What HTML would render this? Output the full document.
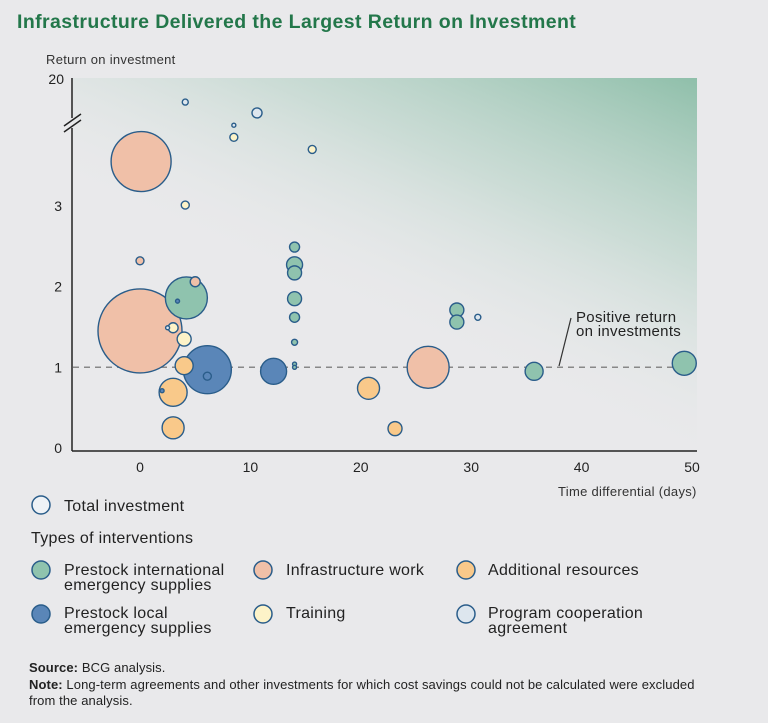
<!DOCTYPE html>
<html><head><meta charset="utf-8"><style>
body{margin:0;background:#e9e9eb;font-family:"Liberation Sans",sans-serif;}
#wrap{position:relative;width:768px;height:723px;overflow:hidden;background:#e9e9eb;}
</style></head><body>
<div id="wrap">
<svg id="svg" width="768" height="723" viewBox="0 0 768 723" xmlns="http://www.w3.org/2000/svg">
<defs>
<linearGradient id="g" x1="1" y1="0" x2="0.45" y2="0.75">
<stop offset="0" stop-color="#8fbfaa" stop-opacity="1"/>
<stop offset="0.45" stop-color="#a9cdbd" stop-opacity="0.45"/>
<stop offset="0.9" stop-color="#e9e9eb" stop-opacity="0"/>
</linearGradient>
</defs>
<text x="17" y="28" font-size="19.5" font-weight="bold" fill="#23774a" letter-spacing="0.4">Infrastructure Delivered the Largest Return on Investment</text>
<rect x="73" y="78" width="624" height="372" fill="url(#g)"/>
<text x="46" y="64" font-size="13" fill="#333" letter-spacing="0.3">Return on investment</text>
<g id="axes"></g>
<g id="marks"></g>
<line x1="559" y1="366" x2="571" y2="318" stroke="#333" stroke-width="1.2"/>
<text x="576" y="322" font-size="15" letter-spacing="0.3" fill="#222">Positive return</text>
<text x="576" y="336" font-size="15" letter-spacing="0.3" fill="#222">on investments</text>
<text x="558" y="496" font-size="13" letter-spacing="0.3" fill="#333">Time differential (days)</text>

<g font-size="16" letter-spacing="0.3" fill="#222">
<circle cx="41" cy="505" r="9" fill="#eef2f6" stroke="#2a5d8a" stroke-width="1.5"/>
<text x="64" y="511">Total investment</text>
<text x="31" y="543">Types of interventions</text>
<circle cx="41" cy="570" r="9" fill="#8fc3ae" stroke="#2a5d8a" stroke-width="1.5"/>
<text x="64" y="575">Prestock international</text><text x="64" y="590">emergency supplies</text>
<circle cx="263" cy="570" r="9" fill="#f0c0a8" stroke="#2a5d8a" stroke-width="1.5"/>
<text x="286" y="575">Infrastructure work</text>
<circle cx="466" cy="570" r="9" fill="#f9c98a" stroke="#2a5d8a" stroke-width="1.5"/>
<text x="488" y="575">Additional resources</text>
<circle cx="41" cy="614" r="9" fill="#5a86b8" stroke="#2a5d8a" stroke-width="1.5"/>
<text x="64" y="618">Prestock local</text><text x="64" y="633">emergency supplies</text>
<circle cx="263" cy="614" r="9" fill="#fdf3c8" stroke="#2a5d8a" stroke-width="1.5"/>
<text x="286" y="618">Training</text>
<circle cx="466" cy="614" r="9" fill="#dde6ee" stroke="#2a5d8a" stroke-width="1.5"/>
<text x="488" y="618">Program cooperation</text><text x="488" y="633">agreement</text>
</g>
<g font-size="13" letter-spacing="0.1" fill="#222">
<text x="29" y="672"><tspan font-weight="bold">Source:</tspan> BCG analysis.</text>
<text x="29" y="689"><tspan font-weight="bold">Note:</tspan> Long-term agreements and other investments for which cost savings could not be calculated were excluded</text>
<text x="29" y="705">from the analysis.</text>
</g>
</svg>
</div>
<script>
const xTicks=[0,10,20,30,40,50];
const yTicks=[0,1,2,3];
const days=[4.1,10.6,8.5,8.5,15.6,0.1,4.1,0,5.0,4.2,3.4,0,3.0,2.5,4.0,4.0,6.1,6.1,12.1,3.0,2.0,3.0,14.0,14.0,14.0,14.0,14.0,14.0,14.0,14.0,28.7,28.7,30.6,26.1,20.7,23.1,35.7,49.3];
const roi=[11.8,8.1,4.0,3.85,3.7,3.55,3.01,2.32,2.06,1.86,1.82,1.45,1.49,1.49,1.35,1.02,0.97,0.89,0.95,0.69,0.71,0.25,2.49,2.27,2.17,1.85,1.62,1.31,1.04,1.0,1.71,1.56,1.62,1.0,0.74,0.24,0.95,1.05];
const investment=[9,25,4,16,16,900,16,16,25,441,4,1764,25,4,49,81,576,16,169,196,4,121,25,64,49,49,25,9,4,4,49,49,9,441,121,49,81,144];
const types=['coop','coop','coop','train','train','infra','train','infra','infra','intl','local','infra','train','coop','train','res','local','local','local','res','local','res','intl','intl','intl','intl','intl','intl','intl','intl','intl','intl','coop','infra','res','res','intl','intl'];
const colors={intl:'#8fc3ae',infra:'#f0c0a8',res:'#f9c98a',local:'#5a86b8',train:'#fdf3c8',coop:'#dde6ee'};
const NS='http://www.w3.org/2000/svg';
function xs(v){return 140+v*11.04;}
function ys(v){return v<=4?448-80.7*v:125-(v-4)*(47/16);}
function rs(v){return Math.sqrt(v);}
function mk(t,a,p){const e=document.createElementNS(NS,t);for(const k in a)e.setAttribute(k,a[k]);p.appendChild(e);return e;}
const ax=document.getElementById('axes');
let l=mk('line',{x1:72,y1:78,x2:72,y2:118,stroke:'#222','stroke-width':1.5},ax);


l=mk('line',{x1:72,y1:128,x2:72,y2:451,stroke:'#222','stroke-width':1.5},ax);


l=mk('line',{x1:72,y1:451,x2:697,y2:451,stroke:'#222','stroke-width':1.5},ax);


l=mk('path',{d:'M64,126 L81,114 M64,132 L81,120',stroke:'#222','stroke-width':1.5,fill:'none'},ax);


l=mk('line',{x1:73,y1:ys(1),x2:697,y2:ys(1),stroke:'#888','stroke-width':1.5,'stroke-dasharray':'6,5'},ax);


xTicks.forEach(v=>{const t=mk('text',{x:xs(v),y:472,'font-size':14,'text-anchor':'middle',fill:'#222'},ax);t.textContent=v;

});
yTicks.concat([20]).forEach(v=>{const y=v===20?84:ys(v)+5;const t=mk('text',{x:v===20?64:62,y:y,'font-size':14,'text-anchor':'end',fill:'#222'},ax);t.textContent=v;

});
const mg=document.getElementById('marks');
const order=days.map((d,i)=>i).sort((a,b)=>investment[b]-investment[a]);
order.forEach(i=>{const c=mk('circle',{cx:xs(days[i]),cy:ys(roi[i]),r:rs(investment[i]),fill:colors[types[i]],stroke:'#2a5d8a','stroke-width':1.4},mg);

});
</script>
</body></html>
